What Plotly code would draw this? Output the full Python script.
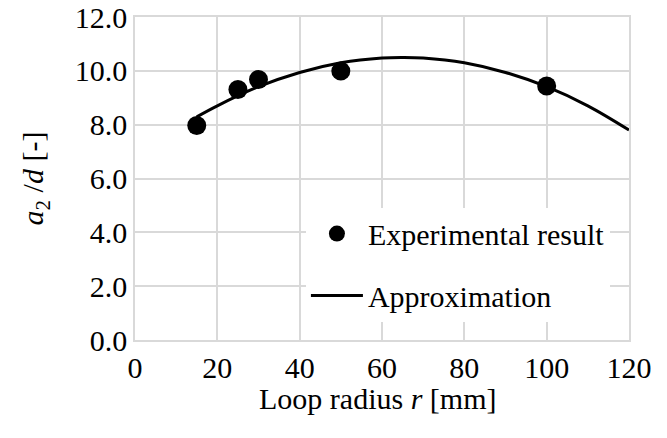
import plotly.graph_objects as go

# Measured points
loop_radius_mm = [15, 25, 30, 50, 100]
a2_over_d = [7.97, 9.31, 9.68, 9.99, 9.44]

# Approximation curve, sampled along the fitted line
approx_r = [15, 20, 30, 40, 50, 60, 65, 70, 80, 90, 100, 110, 120]
approx_val = [8.29, 8.70, 9.41, 9.94, 10.30, 10.48, 10.50, 10.48, 10.30, 9.94, 9.41, 8.70, 7.80]

x_ticks = [0, 20, 40, 60, 80, 100, 120]
y_ticks = [0, 2, 4, 6, 8, 10, 12]
y_tick_text = [f"{v:.1f}" for v in y_ticks]

FONT = "Liberation Serif"
FS = 30
GRID = "#d9d9d9"

fig = go.Figure()
fig.add_trace(go.Scatter(
    x=loop_radius_mm, y=a2_over_d, mode="markers", name="Experimental result",
    legendgroup="exp",
    marker=dict(color="black", size=19, symbol="circle"),
))
fig.add_trace(go.Scatter(
    x=approx_r, y=approx_val, mode="lines", name="Approximation",
    legendgroup="approx",
    line=dict(color="black", width=3, shape="spline"),
))

fig.update_layout(
    width=667, height=438,
    margin=dict(l=135, r=38, t=17, b=98),
    paper_bgcolor="white", plot_bgcolor="white",
    font=dict(family=FONT, size=FS, color="black"),
    showlegend=True,
    legend=dict(
        x=0.346, y=0.41, xanchor="left", yanchor="top",
        bgcolor="white", borderwidth=0,
        font=dict(family=FONT, size=FS, color="black"),
        itemwidth=52, tracegroupgap=20,
    ),
    xaxis=dict(
        range=[0, 120], tickvals=x_ticks, showgrid=True, gridcolor=GRID, gridwidth=1.5,
        zeroline=False, showline=True, linecolor=GRID, linewidth=1.5, mirror=True,
        ticks="", ticklen=0, ticklabeloverflow="allow", automargin=False,
    ),
    yaxis=dict(
        range=[0, 12], tickvals=y_ticks, ticktext=y_tick_text, showgrid=True,
        gridcolor=GRID, gridwidth=1.5,
        zeroline=False, showline=True, linecolor=GRID, linewidth=1.5, mirror=True,
        ticks="", ticklen=0, ticklabeloverflow="allow", automargin=False,
        title=dict(text="<i>a</i><sub>2</sub> /<i>d</i> [-]", standoff=22,
                   font=dict(family=FONT, size=FS)),
    ),
    annotations=[dict(
        text="Loop radius <i>r</i> [mm]", xref="paper", yref="paper",
        x=0.491, y=-0.18, xanchor="center", yanchor="middle",
        showarrow=False, font=dict(family=FONT, size=FS, color="black"),
    )],
)

fig.write_html("out.html")
